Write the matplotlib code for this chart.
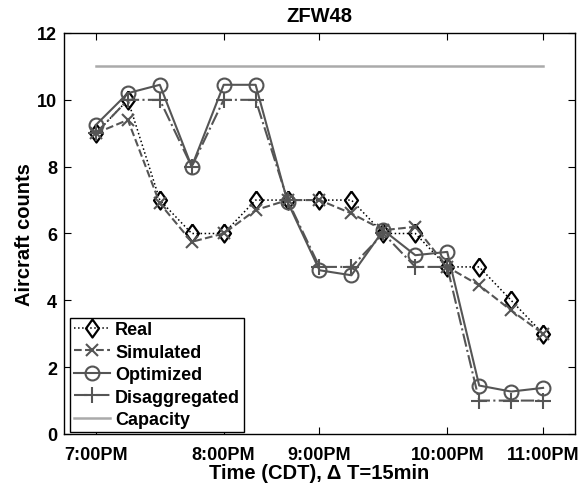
import numpy as np
import matplotlib
matplotlib.use('Agg')
import matplotlib.pyplot as plt

plt.rcParams['font.family'] = ['Liberation Sans', 'DejaVu Sans']
plt.rcParams['font.weight'] = 'bold'

# 15-min intervals, MATLAB style index 1..15
slot = np.arange(1, 16)
real = [9, 10, 7, 6, 6, 7, 7, 7, 7, 6, 6, 5, 5, 4, 3]
simulated = [9.0, 9.4, 6.9, 5.75, 6.0, 6.7, 7.0, 7.0, 6.6, 6.1, 6.2, 5.0, 4.45, 3.7, 3.0]
optimized = [9.25, 10.2, 10.45, 8.0, 10.45, 10.45, 6.95, 4.9, 4.75, 6.1, 5.35, 5.45, 1.45, 1.27, 1.38]
disagg = [9, 10, 10, 8, 10, 10, 7, 5, 5, 6, 5, 5, 1, 1, 1]
capacity = [11] * 15

tick_pos = [1, 5, 8, 12, 15]
tick_lab = ['7:00PM', '8:00PM', '9:00PM', '10:00PM', '11:00PM']

gray = '#555555'
diamond = [(0, 1), (0.72, 0), (0, -1), (-0.72, 0), (0, 1)]

fig = plt.figure(figsize=(5.8, 4.85), dpi=100)
ax = fig.add_axes([0.1103, 0.1031, 0.8811, 0.8268])

ax.plot(slot, real, ':', color='k', lw=1.1, marker=diamond, ms=13,
        mfc='none', mec='k', mew=1.6, label='Real')
ax.plot(slot, simulated, '--', color=gray, lw=1.5, marker='x', ms=8,
        mew=1.5, label='Simulated')
ax.plot(slot, optimized, '-', color=gray, lw=1.5, marker='o', ms=10,
        mfc='none', mew=1.5, label='Optimized')
ax.plot(slot, disagg, '-.', color=gray, lw=1.5, marker='+', ms=11,
        mew=1.5, label='Disaggregated')
ax.plot(slot, capacity, '-', color='#aaaaaa', lw=1.8, label='Capacity')

ax.set_xlim(0, 16)
ax.set_ylim(0, 12)
ax.set_yticks(np.arange(0, 13, 2))
ax.set_xticks(tick_pos)
ax.set_xticklabels(tick_lab)
ax.tick_params(direction='in', top=True, right=True, length=5, width=0.8,
               labelsize=13)
ax.tick_params(axis='x', pad=9)
ax.tick_params(axis='y', pad=5)
for lab in ax.get_xticklabels() + ax.get_yticklabels():
    lab.set_fontweight('bold')
for s in ax.spines.values():
    s.set_linewidth(1.0)

ax.set_title('ZFW48', fontsize=14.5, fontweight='bold', pad=8.5)
ax.set_xlabel('Time (CDT), Δ T=15min', fontsize=14.5, fontweight='bold', labelpad=0)
ax.set_ylabel('Aircraft counts', fontsize=14.5, fontweight='bold', labelpad=2)

leg = ax.legend(loc='lower left', bbox_to_anchor=(0.012, 0.006), borderaxespad=0,
                numpoints=1, fontsize=13, handlelength=2.0, handletextpad=0.3,
                borderpad=0.2, labelspacing=0.3, fancybox=False, framealpha=1)
leg.get_frame().set_edgecolor('k')
leg.get_frame().set_linewidth(1.0)

fig.savefig('out.png', dpi=100)
